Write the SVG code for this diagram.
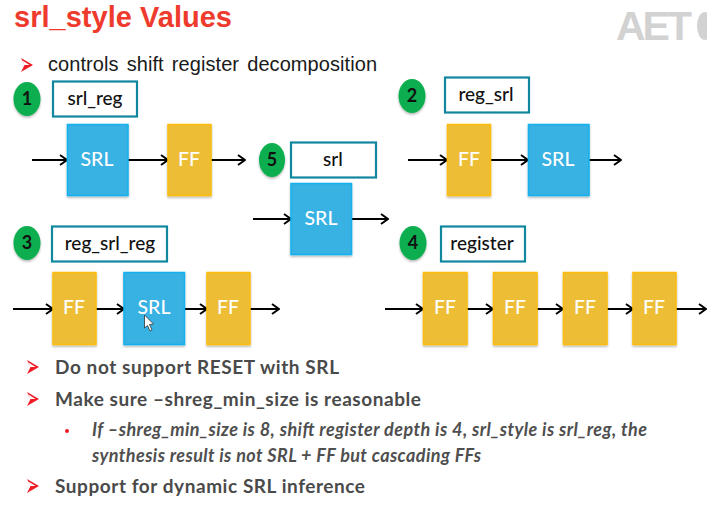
<svg xmlns="http://www.w3.org/2000/svg" width="707" height="508" viewBox="0 0 707 508">
<style>
text{font-family:"Lato","Open Sans","Liberation Sans",sans-serif}
.title{font-family:"Liberation Sans",Arial,sans-serif;font-size:29px;font-weight:700;fill:#ee3b2d}
.sub{font-family:"Liberation Sans",Arial,sans-serif;font-size:20px;fill:#1a1a1a;word-spacing:2.5px}
.b{font-size:19px;font-weight:700;fill:#4a4a4a}
.i{font-size:18px;font-weight:700;font-style:italic;fill:#4f4f4f}
.label{fill:#fff;stroke:#10879f;stroke-width:2.2}
.lt{font-size:19px;font-weight:500;fill:#111;text-anchor:middle}
.circ{fill:#0fae50;filter:url(#s)}
.ct{font-size:18px;font-weight:700;fill:#111;text-anchor:middle}
.srl{fill:#39b1e3;stroke:#15b0ee;stroke-width:1.5;filter:url(#s)}
.ff{fill:#ecbd35;stroke:#fcbc0c;stroke-width:1.5;filter:url(#s)}
.bt{font-size:19.5px;font-weight:500;fill:#fdfdfd;text-anchor:middle}
.a{stroke:#000;stroke-width:2;fill:none;marker-end:url(#ah)}
.tick{fill:#ee1c25}
</style>
<defs>
<marker id="ah" viewBox="0 0 10 12" refX="9" refY="6" markerWidth="10" markerHeight="12" markerUnits="userSpaceOnUse" orient="auto"><path d="M2 1L9 6L2 11" fill="none" stroke="#000" stroke-width="2"/></marker>
<filter id="s" x="-20%" y="-20%" width="140%" height="140%"><feDropShadow dx="0" dy="1.500" stdDeviation="1.200" flood-color="#000" flood-opacity=".3"/></filter>
<path id="tick" d="M0 0L12 7L0 14L3.500 7L1.500 2.500L8.500 7L3.500 7Z" fill-rule="evenodd"/>
</defs>
<rect width="707" height="508" fill="#fff"/>
<text x="14" y="27" class="title" textLength="218">srl_style Values</text>
<g id="logo" fill="#d2d2d2"><text x="616" y="40" style="font-family:'Liberation Sans',sans-serif;font-size:41px;font-weight:700" fill="#d2d2d2" textLength="76">AET</text><ellipse cx="705" cy="26" rx="8" ry="14"/></g>
<use href="#tick" x="21" y="58" class="tick"/>
<text x="48" y="71" class="sub" textLength="329">controls shift register decomposition</text>
<g id="connectors">
<path class="a" d="M32 160H67"/><path class="a" d="M128 160H168"/><path class="a" d="M210 160H245"/>
<path class="a" d="M253 219H291"/><path class="a" d="M352 219H388"/>
<path class="a" d="M408 160H447"/><path class="a" d="M490 160H528"/><path class="a" d="M589 160H621"/>
<path class="a" d="M13 309H53"/><path class="a" d="M95 309H124"/><path class="a" d="M184 309H207"/><path class="a" d="M250 309H279"/>
<path class="a" d="M385 309H423"/><path class="a" d="M467 309H493"/><path class="a" d="M537 309H563"/><path class="a" d="M607 309H633"/><path class="a" d="M676 309H706"/>
</g>
<g id="n1"><ellipse class="circ" cx="27" cy="99" rx="13.500" ry="17"/><text x="27" y="105" class="ct">1</text><rect class="label" x="53" y="81.500" width="84" height="35"/><text x="95" y="105" class="lt">srl_reg</text></g>
<g id="n1-srl"><rect class="srl" x="67.500" y="124.500" width="60.500" height="71"/><text x="97" y="166" class="bt">SRL</text></g>
<g id="n1-ff"><rect class="ff" x="168" y="124.500" width="43" height="71"/><text x="189" y="166" class="bt">FF</text></g>
<g id="n5"><ellipse class="circ" cx="272" cy="160" rx="13" ry="17"/><text x="272" y="166" class="ct">5</text><rect class="label" x="291" y="142.500" width="85" height="35"/><text x="333" y="166" class="lt">srl</text></g>
<g id="n5-srl"><rect class="srl" x="291" y="183.500" width="60.500" height="71"/><text x="321" y="225" class="bt">SRL</text></g>
<g id="n2"><ellipse class="circ" cx="412" cy="96" rx="13.500" ry="17"/><text x="412" y="102" class="ct">2</text><rect class="label" x="445" y="77.500" width="84" height="35"/><text x="486" y="101" class="lt">reg_srl</text></g>
<g id="n2-ff"><rect class="ff" x="447.500" y="124.500" width="43" height="71"/><text x="469" y="166" class="bt">FF</text></g>
<g id="n2-srl"><rect class="srl" x="528.500" y="124.500" width="60.500" height="71"/><text x="558" y="166" class="bt">SRL</text></g>
<g id="n3"><ellipse class="circ" cx="27" cy="243" rx="13.500" ry="17"/><text x="27" y="249" class="ct">3</text><rect class="label" x="52" y="226.500" width="115" height="35"/><text x="110" y="250" class="lt">reg_srl_reg</text></g>
<g id="n3-ff1"><rect class="ff" x="53" y="272.500" width="43" height="72"/><text x="74" y="314" class="bt">FF</text></g>
<g id="n3-srl"><rect class="srl" x="124" y="272.500" width="60.500" height="72"/><text x="154" y="314" class="bt">SRL</text></g>
<g id="n3-ff2"><rect class="ff" x="207" y="272.500" width="43" height="72"/><text x="228" y="314" class="bt">FF</text></g>
<path id="cursor" d="M144.500 315V328L147.500 325.500L150 331L152 330L149.500 324.500L153.500 324Z" fill="#fff" stroke="#333" stroke-width=".8"/>
<g id="n4"><ellipse class="circ" cx="413" cy="243" rx="13.500" ry="17"/><text x="413" y="249" class="ct">4</text><rect class="label" x="441" y="226.500" width="84" height="35"/><text x="482" y="250" class="lt">register</text></g>
<g id="n4-ff1"><rect class="ff" x="423.500" y="272.500" width="43.500" height="72"/><text x="445" y="314" class="bt">FF</text></g>
<g id="n4-ff2"><rect class="ff" x="493.500" y="272.500" width="43.500" height="72"/><text x="515" y="314" class="bt">FF</text></g>
<g id="n4-ff3"><rect class="ff" x="563.500" y="272.500" width="43.500" height="72"/><text x="585" y="314" class="bt">FF</text></g>
<g id="n4-ff4"><rect class="ff" x="633" y="272.500" width="43" height="72"/><text x="654" y="314" class="bt">FF</text></g>
<use href="#tick" x="27" y="360" class="tick"/>
<text x="55" y="374" class="b" textLength="284">Do not support RESET with SRL</text>
<use href="#tick" x="27" y="392" class="tick"/>
<text x="55" y="406" class="b" textLength="366">Make sure –shreg_min_size is reasonable</text>
<circle class="tick" cx="67" cy="431" r="2"/>
<text x="92" y="436" class="i" textLength="555">If –shreg_min_size is 8, shift register depth is 4, srl_style is srl_reg, the</text>
<text x="92" y="462" class="i" textLength="389">synthesis result is not SRL + FF but cascading FFs</text>
<use href="#tick" x="27" y="479" class="tick"/>
<text x="55" y="493" class="b" textLength="310">Support for dynamic SRL inference</text>
</svg>
